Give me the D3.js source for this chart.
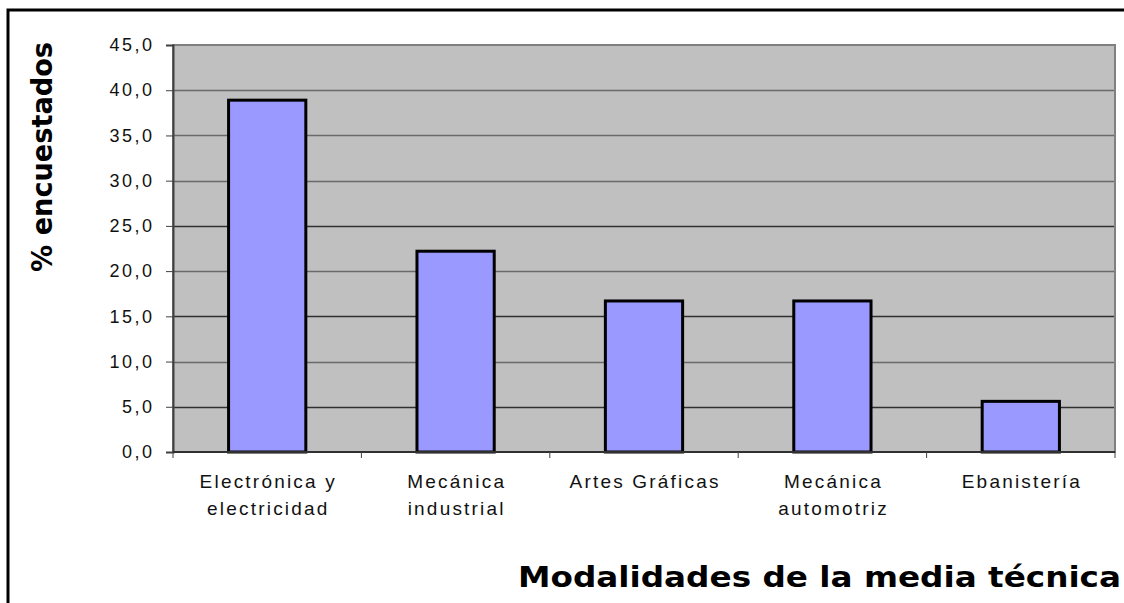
<!DOCTYPE html>
<html>
<head>
<meta charset="utf-8">
<script src="https://cdn.jsdelivr.net/npm/d3@7"></script>
<style>
  body { margin: 0; background: #fff; }
  svg { display: block; font-family: "Liberation Sans", Arial, sans-serif; }
</style>
</head>
<body>
<div id="chart"></div>
<script>
// data
var categories = [["Electrónica y", "electricidad"], ["Mecánica", "industrial"], ["Artes Gráficas"], ["Mecánica", "automotriz"], ["Ebanistería"]];
var values = [38.9, 22.2, 16.7, 16.7, 5.6];
var yTicks = [0, 5, 10, 15, 20, 25, 30, 35, 40, 45];

var W = 1124, H = 603;
var margin = { top: 45, right: 9, bottom: 151, left: 173 },
    width = W - margin.left - margin.right,
    height = H - margin.top - margin.bottom;

var svg = d3.select("#chart").append("svg")
    .attr("width", W)
    .attr("height", H);

// outer chart border
svg.append("rect")
    .attr("x", 8).attr("y", 10)
    .attr("width", W + 20).attr("height", H + 20)
    .attr("fill", "none").attr("stroke", "#000").attr("stroke-width", 3);

var g = svg.append("g")
    .attr("transform", "translate(" + margin.left + "," + margin.top + ")");

var x = d3.scaleBand()
    .domain(d3.range(categories.length))
    .range([0, width])
    .paddingInner(0.59).paddingOuter(0.295);

var xb = d3.scaleBand()
    .domain(d3.range(categories.length))
    .range([0, width]);

var y = d3.scaleLinear()
    .domain([0, 45])
    .range([height, 0]);

// plot background
g.append("rect")
    .attr("width", width).attr("height", height)
    .attr("fill", "#c0c0c0");

// gridlines
g.selectAll(".grid")
    .data(yTicks.slice(1, -1))
    .enter().append("line")
    .attr("x1", 0).attr("x2", width)
    .attr("y1", function (d) { return Math.round(y(d)) + 0.5; })
    .attr("y2", function (d) { return Math.round(y(d)) + 0.5; })
    .attr("stroke", function (d) { return d <= 30 && d % 10 != 0 ? "#303030" : "#6a6a6a"; })
    .attr("stroke-width", 1.5);

// plot border
g.append("rect")
    .attr("width", width).attr("height", height)
    .attr("fill", "none").attr("stroke", "#808080").attr("stroke-width", 2);

// bars
g.selectAll(".bar")
    .data(values)
    .enter().append("rect")
    .attr("x", function (d, i) { return x(i); })
    .attr("y", function (d) { return y(d); })
    .attr("width", x.bandwidth())
    .attr("height", function (d) { return height - y(d); })
    .attr("fill", "#9999ff")
    .attr("stroke", "#000")
    .attr("stroke-width", 3);

// y axis
var yAxis = g.append("g")
    .call(d3.axisLeft(y).tickValues(yTicks).tickSize(7).tickPadding(11.5)
        .tickFormat(function (d) { return d3.format(".1f")(d).replace(".", ","); }));
yAxis.select(".domain").attr("stroke", "#404040").attr("stroke-width", 2);
yAxis.selectAll(".tick line").attr("stroke", "#404040");
yAxis.selectAll("text").attr("font-size", 18).attr("fill", "#111")
    .attr("letter-spacing", 2.5).attr("font-family", "Liberation Sans, Arial, sans-serif");

// x axis line and ticks between categories
g.append("line")
    .attr("x1", 0).attr("x2", width)
    .attr("y1", height).attr("y2", height)
    .attr("stroke", "#303030").attr("stroke-width", 2);
g.selectAll(".xtick")
    .data(d3.range(categories.length + 1))
    .enter().append("line")
    .attr("x1", function (d) { return d < categories.length ? xb(d) : width; })
    .attr("x2", function (d) { return d < categories.length ? xb(d) : width; })
    .attr("y1", height).attr("y2", height + 6)
    .attr("stroke", "#404040");

// x labels
var lab = g.selectAll(".xlab")
    .data(categories)
    .enter().append("text")
    .attr("text-anchor", "middle")
    .attr("font-size", 19)
    .attr("letter-spacing", 2.2)
    .attr("fill", "#111")
    .attr("transform", function (d, i) { return "translate(" + (xb(i) + xb.bandwidth() / 2 + 1.1) + "," + (height + 36) + ")"; });
lab.selectAll("tspan")
    .data(function (d) { return d; })
    .enter().append("tspan")
    .attr("x", 0)
    .attr("dy", function (d, i) { return i == 0 ? 0 : 27; })
    .text(function (d) { return d; });

// y title
svg.append("text")
    .attr("transform", "translate(52,272) rotate(-90)")
    .attr("font-family", "DejaVu Sans, sans-serif")
    .attr("font-size", 28)
    .attr("font-weight", "bold")
    .attr("textLength", 230)
    .attr("lengthAdjust", "spacingAndGlyphs")
    .attr("fill", "#000")
    .text("% encuestados");

// x title
svg.append("text")
    .attr("x", 518)
    .attr("y", 587)
    .attr("font-family", "DejaVu Sans, sans-serif")
    .attr("font-size", 28)
    .attr("font-weight", "bold")
    .attr("textLength", 603)
    .attr("lengthAdjust", "spacingAndGlyphs")
    .attr("fill", "#000")
    .text("Modalidades de la media técnica");
</script>
</body>
</html>
